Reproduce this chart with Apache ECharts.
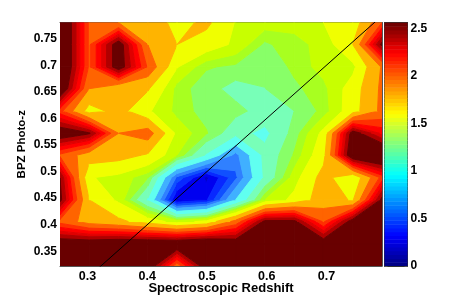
<!DOCTYPE html>
<html><head><meta charset="utf-8"><style>html,body{margin:0;padding:0;background:#fff}#c{width:463px;height:300px}</style>
<script src="https://cdn.jsdelivr.net/npm/echarts@6/dist/echarts.min.js"></script></head><body><div id="c"></div>
<script>
const xNodes=[0.254,0.303,0.352,0.401,0.45,0.499,0.548,0.597,0.646,0.695,0.744,0.793];
const yNodes=[0.3224,0.364,0.406,0.447,0.489,0.531,0.572,0.614,0.656,0.697,0.739,0.7804];
// rows listed from the lowest redshift row (bottom) to the top
const r0=[3.0,3.0,3.0,2.67,1.95,2.65,3.0,3.0,3.0,3.0,3.0,3.0];
const r1=[2.65,2.65,2.7,2.7,2.7,2.77,2.65,3.0,3.0,2.64,3.0,3.0];
const r2=[2.0,1.8,1.72,1.6,1.45,1.55,1.95,2.55,2.55,2.03,2.6,3.0];
const r3=[2.55,1.68,1.48,1.05,0.21,0.33,0.87,1.4,1.55,1.78,1.66,2.55];
const r4=[2.5,1.52,1.47,1.33,0.55,0.2,0.55,1.1,1.45,1.75,1.52,2.1];
const r5=[2.02,1.78,1.75,1.66,1.4,1.05,0.65,1.12,1.33,1.62,2.7,2.8];
const r6=[2.65,2.52,1.88,1.98,1.47,1.33,1.12,1.03,1.27,1.55,2.6,2.25];
const r7=[2.1,1.6,1.75,1.53,1.37,1.28,1.26,1.16,1.22,1.35,1.6,1.93];
const r8=[2.72,1.88,1.7,1.7,1.36,1.27,1.17,1.218,1.3,1.37,1.58,1.92];
const r9=[2.8,2.03,2.62,2.03,1.52,1.33,1.3,1.25,1.34,1.44,1.47,1.9];
const r10=[2.8,2.03,2.62,1.88,1.68,1.6,1.48,1.3,1.38,1.42,1.68,2.55];
const r11=[2.8,2.03,1.88,1.8,1.62,1.72,1.5,1.45,1.42,1.51,1.56,2.05];
const rows=[r0,r1,r2,r3,r4,r5,r6,r7,r8,r9,r10,r11];
const bandEdges=[-1,0.23,0.35,0.47,0.58,0.7,0.87,1.07,1.22,1.32,1.4,1.51,1.68,1.88,2.05,2.17,2.28,2.38,2.5,9];
const bandColors=['#0000c8','#0000f0','#0828ff','#1050ff','#3080ff','#40b0ff','#60fff0','#78ffb8','#88ff68','#a8ff20','#c8ff00','#f0ff00','#ffb400','#ff6400','#ff3000','#ff0000','#e00000','#b00000','#690000'];
const xTicks=[0.3,0.4,0.5,0.6,0.7];
const yTicks=[0.35,0.4,0.45,0.5,0.55,0.6,0.65,0.7,0.75];
const cbTicks=[0,0.5,1,1.5,2,2.5];
const cbMax=2.56;
const identity=[[0.25,0.25],[0.8,0.8]];

function jet(f){
  const c=t=>Math.round(255*Math.max(0,Math.min(1,t)));
  let r=Math.min(4*f-1.5,-4*f+4.5),g=Math.min(4*f-0.5,-4*f+3.5),b=Math.min(4*f+0.5,-4*f+2.5);
  if(f>0.875) r=1-(f-0.875)/0.125*0.59;
  return 'rgb('+c(r)+','+c(g)+','+c(b)+')';
}
function clip(poly,lo,hi){
  const cut=(p,test,level)=>{const o=[];for(let i=0;i<p.length;i++){const a=p[i],b=p[(i+1)%p.length];const ia=test(a[2]),ib=test(b[2]);
    if(ia)o.push(a);
    if(ia!==ib){const t=(level-a[2])/(b[2]-a[2]);o.push([a[0]+t*(b[0]-a[0]),a[1]+t*(b[1]-a[1]),level]);}}return o;};
  let o=cut(poly,v=>v>=lo,lo);if(o.length<3)return o;
  return cut(o,v=>v<=hi,hi);
}
const cells=[];
for(let j=0;j<yNodes.length-1;j++)for(let i=0;i<xNodes.length-1;i++)cells.push([xNodes[i],yNodes[j],i,j]);
function renderCell(params,api){
  const i=api.value(2),j=api.value(3);
  const P=(a,b)=>[xNodes[a],yNodes[b],rows[b][a]];
  const quad=[P(i,j),P(i+1,j),P(i+1,j+1),P(i,j+1)];
  const children=[];
  bandColors.forEach((col,k)=>{
    const p=clip(quad,bandEdges[k],bandEdges[k+1]);
    if(p.length>=3)children.push({type:'polygon',shape:{points:p.map(q=>api.coord([q[0],q[1]]))},style:{fill:col,stroke:col,lineWidth:1,lineJoin:'round'}});
  });
  return {type:'group',children};
}
const cbCells=[];for(let k=0;k<64;k++)cbCells.push([k]);
function renderCb(params,api){
  const k=api.value(0);
  const a=api.coord([0,k/64*cbMax]),b=api.coord([1,(k+1)/64*cbMax]);
  return {type:'rect',shape:{x:a[0],y:b[1],width:b[0]-a[0],height:a[1]-b[1]+0.5},style:{fill:jet((k+0.5)/64)}};
}
const font={fontFamily:'Liberation Sans',fontWeight:'bold',fontSize:12,color:'#000'};
const lineS={show:true,lineStyle:{color:'#555',width:1}};
const tick=(len)=>({show:true,inside:true,length:len,lineStyle:{color:'#555',width:1}});
const chart=echarts.init(document.getElementById('c'),null,{renderer:'canvas'});
chart.setOption({
  animation:false,backgroundColor:'#fff',
  grid:[{left:60,top:22.5,width:322,height:243.5,show:false},{left:384.5,top:22.5,width:23,height:243.5,show:false}],
  xAxis:[
    {type:'value',gridIndex:0,min:xNodes[0],max:xNodes[11],position:'bottom',axisLine:{...lineS,onZero:false},axisTick:{...tick(3),customValues:xTicks},
     axisLabel:{...font,fontSize:12.5,margin:4,customValues:xTicks,formatter:v=>String(v)},splitLine:{show:false},
     name:'Spectroscopic Redshift',nameLocation:'middle',nameGap:16,nameMoveOverlap:false,nameTextStyle:{...font,fontSize:13}},
    {type:'value',gridIndex:0,min:xNodes[0],max:xNodes[11],position:'top',axisLine:{...lineS,onZero:false},axisTick:{...tick(3),customValues:xTicks},axisLabel:{show:false},splitLine:{show:false}},
    {type:'value',gridIndex:1,min:0,max:1,position:'bottom',axisLine:{show:true,onZero:false,lineStyle:{color:'#333'}},axisTick:{show:false},axisLabel:{show:false},splitLine:{show:false}},
    {type:'value',gridIndex:1,min:0,max:1,position:'top',axisLine:{show:true,onZero:false,lineStyle:{color:'#333'}},axisTick:{show:false},axisLabel:{show:false},splitLine:{show:false}}
  ],
  yAxis:[
    {type:'value',gridIndex:0,min:yNodes[0],max:yNodes[11],position:'left',axisLine:{...lineS,onZero:false},axisTick:{...tick(3),customValues:yTicks},
     axisLabel:{...font,margin:3,customValues:yTicks,formatter:v=>String(v)},splitLine:{show:false},
     name:'BPZ Photo-z',nameLocation:'middle',nameGap:32,nameMoveOverlap:false,nameTextStyle:{...font,fontSize:11.5}},
    {type:'value',gridIndex:0,min:yNodes[0],max:yNodes[11],position:'right',axisLine:{...lineS,onZero:false},axisTick:{...tick(3),customValues:yTicks},axisLabel:{show:false},splitLine:{show:false}},
    {type:'value',gridIndex:1,min:0,max:cbMax,position:'right',axisLine:{show:true,onZero:false,lineStyle:{color:'#333'}},axisTick:{...tick(3),customValues:cbTicks},
     axisLabel:{...font,margin:3,customValues:cbTicks,formatter:v=>String(v)},splitLine:{show:false}},
    {type:'value',gridIndex:1,min:0,max:cbMax,position:'left',axisLine:{show:true,onZero:false,lineStyle:{color:'#333'}},axisTick:{...tick(3),customValues:cbTicks},axisLabel:{show:false},splitLine:{show:false}}
  ],
  series:[
    {type:'custom',xAxisIndex:0,yAxisIndex:0,data:cells,renderItem:renderCell,encode:{x:0,y:1},silent:true,clip:true,z:1},
    {type:'line',xAxisIndex:0,yAxisIndex:0,data:identity,symbol:'none',clip:true,lineStyle:{color:'#000',width:1},z:3,silent:true},
    {type:'custom',xAxisIndex:2,yAxisIndex:2,data:cbCells,renderItem:renderCb,silent:true,clip:true,z:1}
  ]
});
</script></body></html>
